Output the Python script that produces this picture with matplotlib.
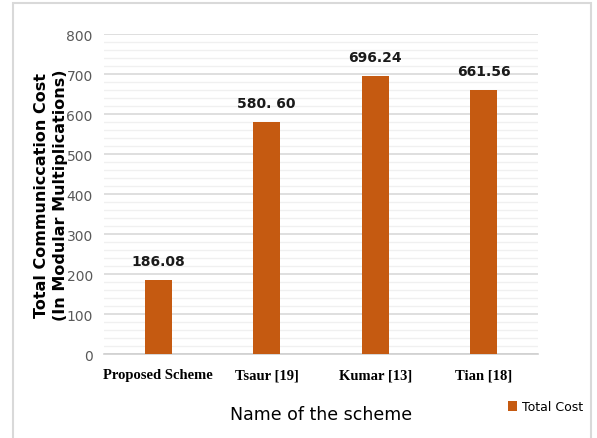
import matplotlib
matplotlib.use('Agg')
import matplotlib.pyplot as plt
from matplotlib.patches import Rectangle

schemes = ['Proposed Scheme', 'Tsaur [19]', 'Kumar [13]', 'Tian [18]']
total_cost = [186.08, 580.60, 696.24, 661.56]
value_labels = ['186.08', '580. 60', '696.24', '661.56']
yticks = [0, 100, 200, 300, 400, 500, 600, 700, 800]

fig = plt.figure(figsize=(5.97, 4.39), dpi=100)
ax = fig.add_axes([0.174, 0.191, 0.727, 0.729])

# outer frame like the office chart
fig.patches.append(Rectangle((0.022, -0.01), 0.968, 1.0, transform=fig.transFigure,
                             fill=False, edgecolor='#d9d9d9', linewidth=1.5))

x = range(len(schemes))
bars = ax.bar(x, total_cost, width=0.25, color='#c55a11', label='Total Cost', zorder=3)

for xi, v, lab in zip(x, total_cost, value_labels):
    ax.text(xi, v + 30, lab, ha='center', va='bottom', fontsize=10,
            fontweight='bold', color='#1a1a1a')

ax.set_xlim(-0.5, 3.5)
ax.set_ylim(0, 800)
ax.set_yticks(yticks)
ax.set_yticks(range(0, 801, 20), minor=True)
ax.grid(axis='y', which='major', color='#d9d9d9', linewidth=1.2, zorder=0)
ax.grid(axis='y', which='minor', color='#f0f0f0', linewidth=1.0, zorder=0)
ax.tick_params(axis='both', which='both', length=0)
ax.tick_params(axis='y', colors='#595959', labelsize=10, pad=8)

ax.set_xticks(list(x))
ax.set_xticklabels(schemes, fontfamily='Liberation Serif', fontweight='bold', fontsize=10.5)
ax.tick_params(axis='x', pad=10)

for s in ['top', 'right', 'left']:
    ax.spines[s].set_visible(False)
ax.spines['bottom'].set_color('#d0d0d0')
ax.spines['bottom'].set_linewidth(1.2)

ax.set_ylabel('Total Communiccation Cost\n(In Modular Multiplications)',
              fontsize=11.5, fontweight='bold', linespacing=1.35, labelpad=-1)
ax.set_xlabel('Name of the scheme', fontsize=12.5, labelpad=17)

ax.legend(loc='lower left', bbox_to_anchor=(0.905, -0.22), frameon=False,
          fontsize=9, handlelength=0.7, handleheight=0.9, handletextpad=0.4)

plt.savefig('out.png', dpi=100)
